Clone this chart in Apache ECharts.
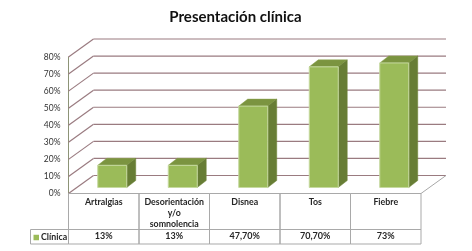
<!DOCTYPE html>
<html><head><meta charset="utf-8">
<script src="https://cdn.jsdelivr.net/npm/echarts@6/dist/echarts.min.js"></script>
<style>html,body{margin:0;padding:0;background:#fff}#c{width:472px;height:251px}</style>
</head><body><div id="c"></div>
<script>
const titleText = 'Presentación clínica';
const seriesName = 'Clínica';
const categories = ['Artralgias', 'Desorientación\ny/o\nsomnolencia', 'Disnea', 'Tos', 'Fiebre'];
const values = [13, 13, 47.7, 70.7, 73];
const tableLabels = ['13%', '13%', '47,70%', '70,70%', '73%'];
const yTicks = [0, 10, 20, 30, 40, 50, 60, 70, 80];

const font = 'Lato, sans-serif';
const chart = echarts.init(document.getElementById('c'), null, {renderer: 'canvas'});
const DX = 25, DY = -18;      // depth of the walls
const BX = 8.5, BY = -6;      // bar offset from the front plane
const BDX = 9, BDY = -7;      // bar depth
const BW = 29;

function wall(params, api) {
  const v = api.value(0), cs = params.coordSys;
  const y = api.coord([0, v])[1], x0 = cs.x, x1 = cs.x + cs.width;
  const style = {stroke: '#9a7b80', lineWidth: 1.2, fill: null};
  const children = [
    {type: 'line', shape: {x1: x0, y1: y, x2: x0 + DX, y2: y + DY}, style},
    {type: 'line', shape: {x1: x0 + DX, y1: y + DY, x2: x1 + DX, y2: y + DY}, style}
  ];
  if (v === 0) children.push({type: 'line', shape: {x1: x1, y1: y, x2: x1 + DX, y2: y + DY}, style: {stroke: '#a8a8a8', lineWidth: 1}});
  return {type: 'group', children};
}

function table(params, api) {
  const cs = params.coordSys, w = cs.width / categories.length;
  const x0 = cs.x + params.dataIndex * w, yT = cs.y + cs.height, yM = yT + 36, yB = yT + 50.5;
  const style = {stroke: '#a9a9a9', lineWidth: 1, fill: null};
  return {type: 'group', children: [
    {type: 'line', shape: {x1: x0, y1: yT, x2: x0 + w, y2: yT}, style},
    {type: 'line', shape: {x1: x0, y1: yM, x2: x0 + w, y2: yM}, style},
    {type: 'line', shape: {x1: x0, y1: yB, x2: x0 + w, y2: yB}, style},
    {type: 'line', shape: {x1: x0, y1: yT, x2: x0, y2: yB}, style},
    {type: 'line', shape: {x1: x0 + w, y1: yT, x2: x0 + w, y2: yB}, style},
    {type: 'text', style: {x: x0 + w / 2, y: yM + 7, text: tableLabels[params.dataIndex], align: 'center', verticalAlign: 'middle', font: 'bold 9px ' + font, fill: '#262626'}}
  ]};
}

function bar(params, api) {
  const i = api.value(0), top = api.coord([i, api.value(1)]), base = api.coord([i, 0]);
  const l = top[0] - BW / 2 + BX, r = l + BW, t = top[1] + BY, b = base[1] + BY;
  return {type: 'group', children: [
    {type: 'polygon', shape: {points: [[l, t], [r, t], [r + BDX, t + BDY], [l + BDX, t + BDY]]}, style: {fill: '#7b9440', stroke: '#8aa24e', lineWidth: 0.5}},
    {type: 'polygon', shape: {points: [[r, t], [r + BDX, t + BDY], [r + BDX, b + BDY], [r, b]]}, style: {fill: '#677d35', stroke: '#70873a', lineWidth: 0.5}},
    {type: 'rect', shape: {x: l, y: t, width: BW, height: b - t}, style: {fill: '#9bbb59', stroke: '#c6d9a0', lineWidth: 1}}
  ]};
}

chart.setOption({
  animation: false,
  title: {text: titleText, left: 230.5, top: 5, textAlign: 'center',
    textStyle: {fontFamily: font, fontSize: 15, fontWeight: 'bold', color: '#111'}},
  legend: {data: [seriesName], left: 33.5, top: 233, itemWidth: 5.5, itemHeight: 5.5, itemGap: 2, icon: 'rect', padding: 0,
    textStyle: {fontFamily: font, fontSize: 8.8, fontWeight: 'bold', color: '#262626', padding: [0, 0, 0, -3]}},
  grid: {left: 68.5, top: 57, width: 352.5, height: 136.5},
  xAxis: {type: 'category', data: categories,
    axisLine: {show: false}, axisTick: {show: false},
    axisLabel: {interval: 0, margin: 3, lineHeight: 11, fontFamily: font, fontSize: 8.8, fontWeight: 'bold', color: '#262626'}},
  yAxis: {type: 'value', min: 0, max: 80, interval: 10,
    splitLine: {show: false}, axisTick: {show: false},
    axisLine: {show: true, lineStyle: {color: '#8d9477', width: 1}},
    axisLabel: {formatter: '{value}%', margin: 8, fontFamily: font, fontSize: 8.5, color: '#333'}},
  graphic: [
    {type: 'rect', shape: {x: 30.5, y: 229.5, width: 38, height: 14.5}, style: {fill: null, stroke: '#a9a9a9', lineWidth: 1}}
  ],
  series: [
    {type: 'custom', name: 'muros', silent: true, data: yTicks.map(v => [v]), encode: {y: 0}, renderItem: wall, z: 1},
    {type: 'custom', name: 'tabla', silent: true, data: categories.map((c, i) => [i]), encode: {x: 0}, renderItem: table, z: 2},
    {type: 'custom', name: seriesName, data: values.map((v, i) => [i, v]), encode: {x: 0, y: 1}, renderItem: bar, z: 3, itemStyle: {color: '#9bbb59'}}
  ]
});
</script></body></html>
